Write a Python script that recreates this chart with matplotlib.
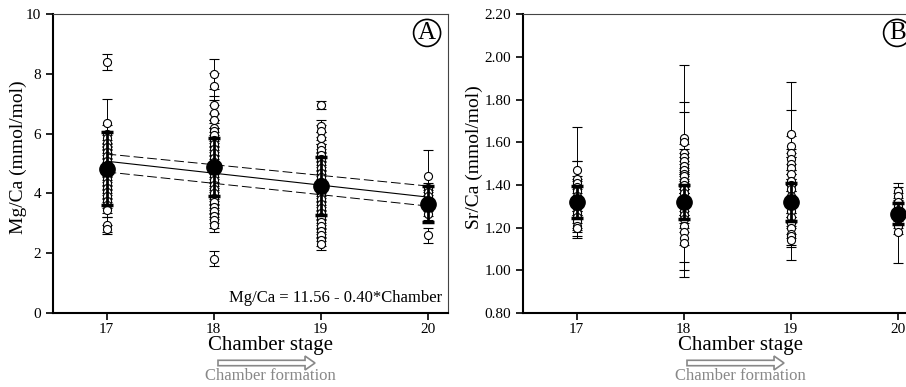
import matplotlib.pyplot as plt
from matplotlib.patches import FancyArrow

plt.rcParams['font.family'] = ['Liberation Serif', 'DejaVu Serif']

chambers = [17, 18, 19, 20]

# Mg/Ca individual measurements (value, 1 sd) per chamber stage
mg_17 = [8.40, 6.37, 6.00, 5.85, 5.70, 5.55, 5.40, 5.25, 5.10, 4.95, 4.80, 4.65,
         4.50, 4.35, 4.20, 4.05, 3.90, 3.75, 3.60, 3.45, 2.95, 2.80]
mg_17_err = [0.28, 0.80, 0.30, 0.25, 0.25, 0.25, 0.25, 0.25, 0.25, 0.25, 0.25, 0.25,
             0.25, 0.25, 0.25, 0.25, 0.25, 0.25, 0.25, 0.25, 0.25, 0.15]
mg_18 = [8.00, 7.58, 6.95, 6.70, 6.45, 6.20, 6.10, 5.95, 5.80, 5.65, 5.50, 5.35,
         5.20, 5.05, 4.90, 4.75, 4.60, 4.45, 4.30, 4.15, 4.00, 3.85, 3.70, 3.55,
         3.40, 3.25, 3.10, 2.95, 1.82]
mg_18_err = [0.50, 0.45, 0.30, 0.25, 0.25, 0.25, 0.25, 0.25, 0.25, 0.25, 0.25, 0.25,
             0.25, 0.25, 0.25, 0.25, 0.25, 0.25, 0.25, 0.25, 0.25, 0.25, 0.25, 0.25,
             0.25, 0.25, 0.25, 0.25, 0.25]
mg_19 = [6.97, 6.25, 6.10, 5.85, 5.60, 5.45, 5.30, 5.15, 5.00, 4.85, 4.70, 4.55,
         4.40, 4.25, 4.10, 3.95, 3.80, 3.65, 3.50, 3.35, 3.20, 3.05, 2.90, 2.75,
         2.60, 2.45, 2.30]
mg_19_err = [0.13, 0.20, 0.20, 0.20, 0.20, 0.20, 0.20, 0.20, 0.20, 0.20, 0.20, 0.20,
             0.20, 0.20, 0.20, 0.20, 0.20, 0.20, 0.20, 0.20, 0.20, 0.20, 0.20, 0.20,
             0.20, 0.20, 0.20]
mg_20 = [4.58, 4.20, 4.05, 3.90, 3.75, 3.60, 3.45, 3.30, 2.60]
mg_20_err = [0.87, 0.15, 0.20, 0.20, 0.20, 0.20, 0.20, 0.20, 0.25]

mg_mean = [4.83, 4.88, 4.25, 3.65]
mg_sd = [1.22, 0.97, 0.97, 0.60]

# regression line and 95% band, read at chambers 17 and 20
fit_x = [17, 20]
fit_y = [5.08, 3.88]
fit_upper = [5.32, 4.25]
fit_lower = [4.72, 3.58]

# Sr/Ca individual measurements
sr_17 = [1.47, 1.43, 1.41, 1.39, 1.37, 1.35, 1.33, 1.31, 1.29, 1.27, 1.25, 1.23,
         1.21, 1.20]
sr_17_err = [0.04, 0.24, 0.10, 0.05, 0.05, 0.05, 0.05, 0.05, 0.05, 0.05, 0.05, 0.05,
             0.05, 0.05]
sr_18 = [1.62, 1.60, 1.55, 1.53, 1.51, 1.49, 1.47, 1.45, 1.44, 1.42, 1.40, 1.38,
         1.36, 1.34, 1.32, 1.30, 1.28, 1.26, 1.24, 1.21, 1.18, 1.15, 1.13]
sr_18_err = [0.17, 0.36, 0.19, 0.06, 0.06, 0.06, 0.06, 0.06, 0.06, 0.06, 0.06, 0.06,
             0.06, 0.06, 0.06, 0.06, 0.06, 0.06, 0.06, 0.17, 0.06, 0.18, 0.13]
sr_19 = [1.64, 1.58, 1.55, 1.52, 1.50, 1.48, 1.45, 1.42, 1.40, 1.38, 1.35, 1.32,
         1.30, 1.28, 1.25, 1.22, 1.20, 1.17, 1.16, 1.14]
sr_19_err = [0.24, 0.05, 0.20, 0.05, 0.05, 0.05, 0.05, 0.05, 0.05, 0.05, 0.05, 0.05,
             0.05, 0.05, 0.05, 0.05, 0.05, 0.05, 0.05, 0.09]
sr_20 = [1.37, 1.35, 1.32, 1.30, 1.27, 1.24, 1.21, 1.18]
sr_20_err = [0.04, 0.04, 0.04, 0.04, 0.04, 0.04, 0.04, 0.145]

sr_mean = [1.32, 1.32, 1.32, 1.265]
sr_sd = [0.075, 0.08, 0.09, 0.05]

fig = plt.figure(figsize=(9.06, 3.87), dpi=100)
axA = fig.add_axes([0.0585, 0.191, 0.436, 0.7726])
axB = fig.add_axes([0.5773, 0.191, 0.436, 0.7726])


def draw_points(ax, groups, means, sds):
    for ch, (vals, errs) in zip(chambers, groups):
        ax.errorbar([ch] * len(vals), vals, yerr=errs, fmt='o', ms=5.8,
                    mfc='white', mec='black', mew=0.8, ecolor='black',
                    elinewidth=0.7, capsize=3.5, capthick=0.8, zorder=3)
    ax.errorbar(chambers, means, yerr=sds, fmt='o', ms=11, color='black',
                elinewidth=2, capsize=4, capthick=2.5, zorder=5)


def style_axes(ax):
    ax.set_xlim(16.5, 20.19)
    ax.set_xticks(chambers)
    for s in ['left', 'bottom']:
        ax.spines[s].set_linewidth(1.5)
    for s in ['top', 'right']:
        ax.spines[s].set_linewidth(0.8)
        ax.spines[s].set_color('#444444')
    ax.tick_params(direction='out', length=5, width=1.2, labelsize=11)
    ax.tick_params(axis='x', pad=2)


draw_points(axA, [(mg_17, mg_17_err), (mg_18, mg_18_err), (mg_19, mg_19_err),
                  (mg_20, mg_20_err)], mg_mean, mg_sd)
axA.plot(fit_x, fit_y, color='black', lw=0.8, zorder=4)
axA.plot(fit_x, fit_upper, color='black', lw=0.7, dashes=(10, 4), zorder=4)
axA.plot(fit_x, fit_lower, color='black', lw=0.7, dashes=(10, 4), zorder=4)
style_axes(axA)
axA.set_ylim(0, 10)
axA.set_yticks([0, 2, 4, 6, 8, 10])
axA.set_ylabel('Mg/Ca (mmol/mol)', fontsize=14)
axA.yaxis.set_label_coords(-0.066, 0.52)
axA.text(0.985, 0.05, 'Mg/Ca = 11.56 - 0.40*Chamber', transform=axA.transAxes,
         ha='right', va='center', fontsize=12)
axA.text(0.947, 0.937, 'A', transform=axA.transAxes, ha='center', va='center',
         fontsize=18, bbox=dict(boxstyle='circle,pad=0.1', fc='white', ec='black', lw=1.2))

draw_points(axB, [(sr_17, sr_17_err), (sr_18, sr_18_err), (sr_19, sr_19_err),
                  (sr_20, sr_20_err)], sr_mean, sr_sd)
style_axes(axB)
axB.set_ylim(0.8, 2.2)
axB.set_yticks([0.8, 1.0, 1.2, 1.4, 1.6, 1.8, 2.0, 2.2])
axB.set_yticklabels(['0.80', '1.00', '1.20', '1.40', '1.60', '1.80', '2.00', '2.20'])
axB.set_ylabel('Sr/Ca (mmol/mol)', fontsize=14)
axB.yaxis.set_label_coords(-0.101, 0.52)
axB.text(0.947, 0.937, 'B', transform=axB.transAxes, ha='center', va='center',
         fontsize=18, bbox=dict(boxstyle='circle,pad=0.1', fc='white', ec='black', lw=1.2))

# x labels and hollow "chamber formation" arrows under each panel
for xc, x0 in [(270 / 906, 218 / 906), (740 / 906, 687 / 906)]:
    fig.text(xc, 1 - 350 / 387, 'Chamber stage', ha='center', va='baseline', fontsize=15)
    arr = FancyArrow(x0, 1 - 363 / 387, 97 / 906, 0, width=0.014, head_width=0.036,
                     head_length=0.011, length_includes_head=True,
                     transform=fig.transFigure, fc='white', ec='#888888', lw=1.2)
    fig.patches.append(arr)
    fig.text(xc, 1 - 376 / 387, 'Chamber formation', ha='center',
             va='center', fontsize=12, color='#888888')

fig.savefig('out.png', dpi=100)
